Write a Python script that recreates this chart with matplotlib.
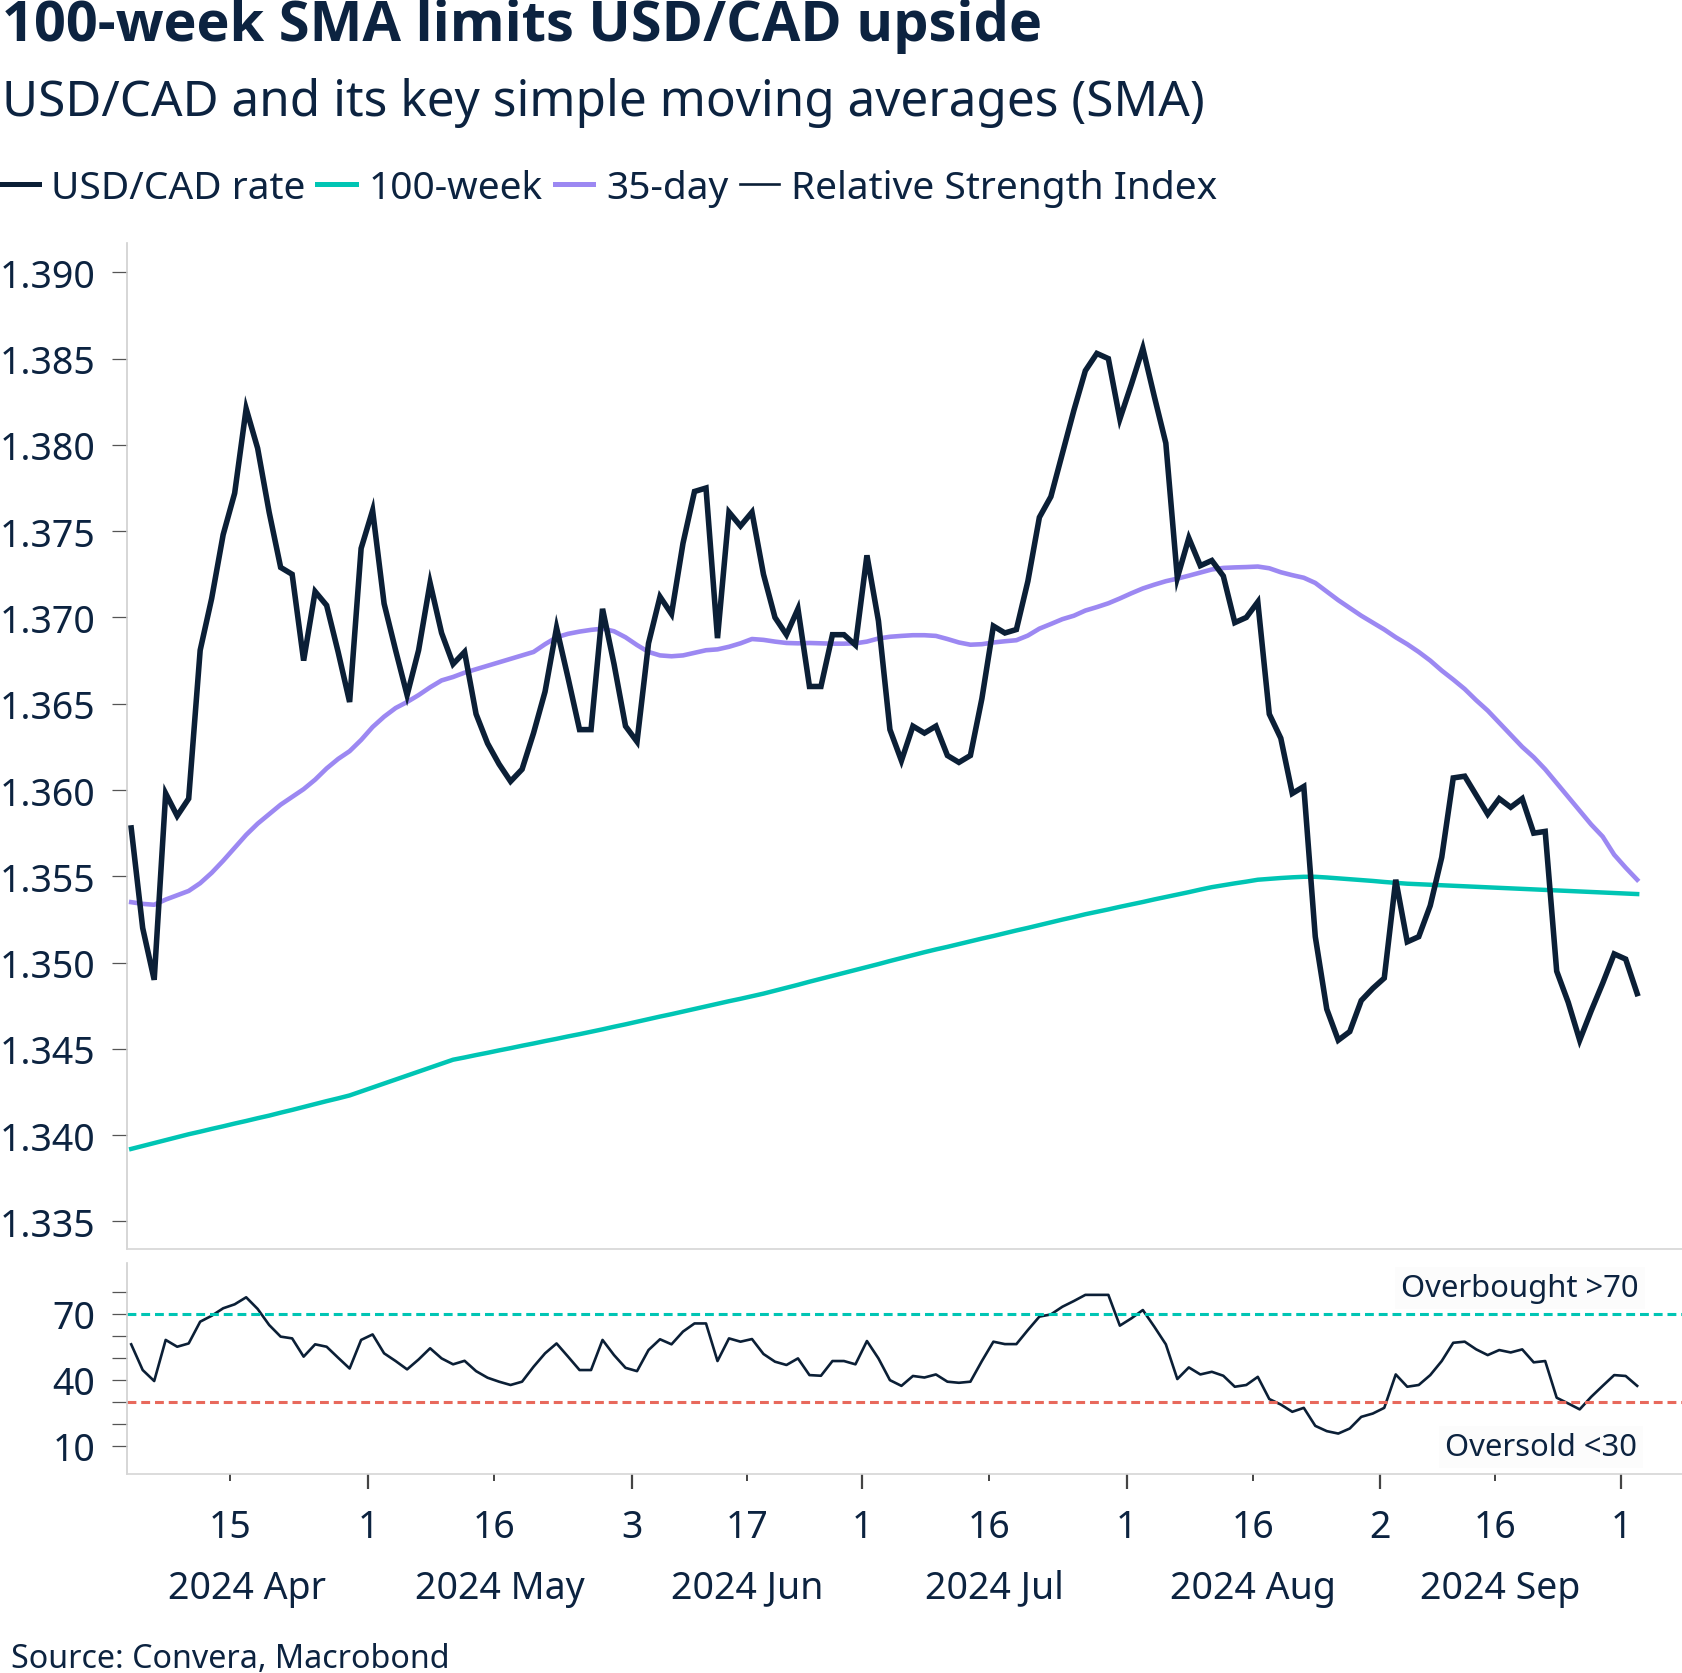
import matplotlib
matplotlib.use('Agg')
import matplotlib.pyplot as plt
import matplotlib.transforms as mtransforms
from matplotlib.lines import Line2D
import numpy as np
import pandas as pd

plt.rcParams['font.family'] = ['Noto Sans', 'DejaVu Sans']

# business days shown on the chart
dates = pd.bdate_range('2024-04-02', periods=132)

usdcad = [1.3578, 1.3520, 1.3490, 1.3598, 1.3585, 1.3595, 1.3681, 1.3711, 1.3748, 1.3772,
          1.3821, 1.3798, 1.3761, 1.3729, 1.3725, 1.3675, 1.3715, 1.3707, 1.3680, 1.3651,
          1.3740, 1.3762, 1.3708, 1.3681, 1.3655, 1.3681, 1.3720, 1.3691,
          1.3673, 1.3680, 1.3644, 1.3627, 1.3615, 1.3605, 1.3612, 1.3633, 1.3657, 1.3694,
          1.3665, 1.3635, 1.3635, 1.3705, 1.3673, 1.3637, 1.3628, 1.3685, 1.3712, 1.3702,
          1.3743, 1.3773, 1.3775, 1.3688, 1.3761, 1.3753, 1.3761,
          1.3725, 1.3700, 1.3690, 1.3705, 1.3660, 1.3660, 1.3690, 1.3690, 1.3684, 1.3736,
          1.3698, 1.3635, 1.3617, 1.3637, 1.3633, 1.3637, 1.3620, 1.3616, 1.3620, 1.3653,
          1.3695, 1.3691, 1.3693, 1.3721, 1.3758, 1.3770, 1.3795, 1.3820, 1.3843,
          1.3853, 1.3850, 1.3815, 1.3835, 1.3856, 1.3828, 1.3801, 1.3723, 1.3746, 1.3730,
          1.3733, 1.3724, 1.3697, 1.3700, 1.3709, 1.3644, 1.3630, 1.3598, 1.3602, 1.3515,
          1.3473, 1.3455, 1.3460, 1.3478, 1.3485, 1.3491, 1.3548, 1.3512,
          1.3515, 1.3533, 1.3561, 1.3607, 1.3608, 1.3597, 1.3586, 1.3595, 1.3590, 1.3595,
          1.3575, 1.3576, 1.3495, 1.3477, 1.3455, 1.3472, 1.3488, 1.3505, 1.3502, 1.3482]

sma_35d = [1.35350, 1.35340, 1.35335, 1.35365, 1.35390, 1.35415, 1.35460, 1.35520, 1.35590, 1.35665,
           1.35740, 1.35805, 1.35860, 1.35915, 1.35960, 1.36005, 1.36060, 1.36125, 1.36180, 1.36225,
           1.36290, 1.36365, 1.36425, 1.36475, 1.36510, 1.36550, 1.36595, 1.36635,
           1.36655, 1.36680, 1.36700, 1.36720, 1.36740, 1.36760, 1.36780, 1.36800, 1.36845, 1.36885,
           1.36905, 1.36918, 1.36928, 1.36935, 1.36920, 1.36885, 1.36840, 1.36800, 1.36780, 1.36775,
           1.36780, 1.36795, 1.36810, 1.36815, 1.36830, 1.36850, 1.36875,
           1.36870, 1.36860, 1.36852, 1.36850, 1.36852, 1.36850, 1.36848, 1.36848, 1.36850, 1.36860,
           1.36878, 1.36888, 1.36893, 1.36897, 1.36897, 1.36893, 1.36875, 1.36855, 1.36842, 1.36845,
           1.36855, 1.36862, 1.36868, 1.36895, 1.36935, 1.36962, 1.36990, 1.37010, 1.37040,
           1.37060, 1.37082, 1.37110, 1.37140, 1.37168, 1.37190, 1.37210, 1.37225, 1.37242, 1.37260,
           1.37278, 1.37287, 1.37290, 1.37292, 1.37295, 1.37285, 1.37262, 1.37245, 1.37230, 1.37200,
           1.37150, 1.37100, 1.37055, 1.37010, 1.36970, 1.36930, 1.36885, 1.36845,
           1.36800, 1.36750, 1.36692, 1.36640, 1.36585, 1.36520, 1.36460, 1.36390, 1.36320, 1.36250,
           1.36190, 1.36120, 1.36040, 1.35960, 1.35880, 1.35800, 1.35730, 1.35625, 1.35550, 1.35480]

sma_100w = [1.33920, 1.33937, 1.33954, 1.33971, 1.33988, 1.34005, 1.34020, 1.34036, 1.34051, 1.34067,
            1.34082, 1.34098, 1.34113, 1.34130, 1.34146, 1.34163, 1.34180, 1.34197, 1.34213, 1.34230,
            1.34253, 1.34276, 1.34299, 1.34322, 1.34345, 1.34368, 1.34391, 1.34414, 1.34437, 1.34450,
            1.34464, 1.34477, 1.34491, 1.34504, 1.34518, 1.34531, 1.34545, 1.34558, 1.34572, 1.34585,
            1.34599, 1.34613, 1.34628, 1.34642, 1.34657, 1.34672, 1.34687, 1.34701, 1.34716, 1.34731,
            1.34746, 1.34761, 1.34776, 1.34790, 1.34805, 1.34820, 1.34837, 1.34854, 1.34871, 1.34889,
            1.34906, 1.34923, 1.34940, 1.34957, 1.34974, 1.34991, 1.35009, 1.35026, 1.35043, 1.35060,
            1.35076, 1.35091, 1.35107, 1.35123, 1.35139, 1.35154, 1.35170, 1.35186, 1.35201, 1.35217,
            1.35233, 1.35249, 1.35264, 1.35280, 1.35294, 1.35308, 1.35323, 1.35337, 1.35351, 1.35366,
            1.35380, 1.35394, 1.35408, 1.35423, 1.35437, 1.35448, 1.35459, 1.35469, 1.35480, 1.35485,
            1.35490, 1.35494, 1.35497, 1.35497, 1.35493, 1.35488, 1.35483, 1.35478, 1.35473, 1.35467,
            1.35462, 1.35457, 1.35454, 1.35451, 1.35448, 1.35445, 1.35442, 1.35439, 1.35436, 1.35433,
            1.35430, 1.35427, 1.35424, 1.35421, 1.35418, 1.35415, 1.35412, 1.35409, 1.35406, 1.35403,
            1.35400, 1.35397]

rsi = [56.2, 44.5, 39.5, 58.2, 55.1, 56.6, 66.5, 69.2, 72.6, 74.4,
       77.6, 72.3, 65.0, 59.7, 58.9, 50.6, 56.2, 55.1, 50.1, 45.2,
       58.2, 60.7, 52.1, 48.6, 44.8, 49.3, 54.4, 49.8, 47.1, 48.7,
       44.0, 41.0, 39.2, 37.7, 39.2, 46.0, 52.1, 56.6, 50.6, 44.5,
       44.5, 58.2, 51.3, 45.5, 44.0, 53.6, 58.5, 56.2, 62.0, 65.7,
       65.7, 48.6, 58.9, 57.4, 58.6, 51.8, 48.3, 46.8, 49.8, 42.2,
       41.9, 48.6, 48.6, 47.1, 57.7, 49.8, 39.9, 37.3, 41.8, 41.1,
       42.5, 39.2, 38.7, 39.2, 48.6, 57.4, 56.3, 56.3, 62.7, 68.8,
       69.8, 73.3, 75.9, 78.7, 78.7, 78.7, 64.7, 68.0, 71.8, 64.2,
       56.2, 40.4, 45.7, 42.5, 43.7, 41.9, 36.9, 37.7, 41.4, 31.3,
       28.8, 25.5, 27.3, 19.1, 16.7, 15.6, 17.9, 23.2, 24.7, 27.3,
       42.5, 36.9, 37.7, 42.2, 48.6, 56.9, 57.4, 53.9, 51.3, 53.6,
       52.5, 53.9, 48.0, 48.6, 31.9, 29.3, 26.6, 32.3, 37.3, 42.2,
       41.8, 37.3]

tick_dates = ['2024-04-15', '2024-05-01', '2024-05-16', '2024-06-03', '2024-06-17',
              '2024-07-01', '2024-07-16', '2024-08-01', '2024-08-16', '2024-09-02',
              '2024-09-16', '2024-10-01']
month_start = ['2024-05-01', '2024-06-03', '2024-07-01', '2024-08-01', '2024-09-02', '2024-10-01']
month_names = ['2024 Apr', '2024 May', '2024 Jun', '2024 Jul', '2024 Aug', '2024 Sep']

navy = '#0b1f36'
txt = '#0c2340'
teal = '#00c5b4'
purple = '#9c88f2'
red = '#e8695c'

W, H = 1682, 1674
fig = plt.figure(figsize=(W / 100, H / 100), dpi=100)

x = np.arange(len(dates))
xlim = (-0.4, 134.9)
shift = 0.4  # tick marks sit slightly left of the data point of that day


def tick_pos(d):
    return dates.get_loc(pd.Timestamp(d)) - shift


left = 126.6 / W
ax = fig.add_axes([left, 1 - 1250 / H, 1 - left, (1250 - 244) / H])
ax2 = fig.add_axes([left, 1 - 1475 / H, 1 - left, (1475 - 1264) / H])

ax.plot(x, sma_100w, color=teal, lw=3.2)
ax.plot(x, sma_35d, color=purple, lw=3.3)
ax.plot(x, usdcad, color=navy, lw=4.0, solid_joinstyle='miter')
ax.set_xlim(*xlim)
ax.set_ylim(1.3334, 1.3917)
yt = np.arange(1.335, 1.3901, 0.005)
ax.set_yticks(yt)
ax.set_yticklabels(['%.3f' % v for v in yt])
ax.set_xticks([])

ax2.plot(x, rsi, color=navy, lw=1.9)
ax2.axhline(70, color=teal, lw=2.2, dashes=(2.9, 1.6))
ax2.axhline(30, color=red, lw=2.2, dashes=(2.9, 1.6))
ax2.set_xlim(*xlim)
ax2.set_ylim(-2.8, 93.2)
ax2.set_yticks([10, 40, 70])
ax2.set_yticks([20, 30, 50, 60, 80], minor=True)

for a in (ax, ax2):
    a.spines['top'].set_visible(False)
    a.spines['right'].set_visible(False)
    a.spines['left'].set_color('#cfcfcf')
    a.spines['bottom'].set_color('#d6d6d6')
    a.spines['left'].set_linewidth(1.2)
    a.spines['bottom'].set_linewidth(1.2)
    a.tick_params(axis='y', which='both', length=10.5, width=0.9, color='#555555',
                  pad=12, labelsize=27, labelcolor=txt)

# date axis
ax2.set_xticks([tick_pos(d) for d in month_start])
ax2.set_xticks([tick_pos(d) for d in tick_dates if d not in month_start], minor=True)
ax2.tick_params(axis='x', which='major', length=10.5, width=1.6, color='#444444', labelbottom=False)
ax2.tick_params(axis='x', which='minor', length=5, width=1.4, color='#444444', labelbottom=False)

trans = mtransforms.blended_transform_factory(ax2.transData, ax2.transAxes)
for d in tick_dates:
    ax2.text(tick_pos(d), -0.252, str(pd.Timestamp(d).day), transform=trans,
             ha='center', va='center', fontsize=27, color=txt)
edges = [xlim[0]] + [tick_pos(d) for d in month_start]
for i, name in enumerate(month_names):
    ax2.text((edges[i] + edges[i + 1]) / 2, -0.538, name, transform=trans,
             ha='center', va='center', fontsize=27, color=txt)

side = mtransforms.blended_transform_factory(ax2.transAxes, ax2.transData)
ax2.text(0.972, 81.8, 'Overbought >70', transform=side,
         ha='right', va='center', fontsize=22.3, color=txt,
         bbox=dict(boxstyle='square,pad=0.2', fc='#fcfcfc', ec='none'))
ax2.text(0.971, 9.5, 'Oversold <30', transform=side,
         ha='right', va='center', fontsize=22.3, color=txt,
         bbox=dict(boxstyle='square,pad=0.2', fc='#fcfcfc', ec='none'))

# titles
fig.text(0.001, 1 - 41 / H, '100-week SMA limits USD/CAD upside', fontsize=40.3,
         fontweight='bold', family='Open Sans', color=txt, va='baseline', ha='left')
fig.text(0.001, 1 - 116 / H, 'USD/CAD and its key simple moving averages (SMA)', fontsize=35.6,
         color=txt, va='baseline', ha='left')

handles = [Line2D([], [], color=navy, lw=3.6),
           Line2D([], [], color=teal, lw=3.6),
           Line2D([], [], color=purple, lw=3.6),
           Line2D([], [], color=navy, lw=1.9)]
labels = ['USD/CAD rate', '100-week', '35-day', 'Relative Strength Index']
leg = fig.legend(handles, labels, loc='center left', bbox_to_anchor=(0.0, 1 - 189 / H),
                 ncol=4, frameon=False, fontsize=28, handlelength=1.0, handletextpad=0.32,
                 columnspacing=0.3, borderpad=0, borderaxespad=0)
for t in leg.get_texts():
    t.set_color(txt)

fig.text(10.7 / W, 1 - 1668 / H, 'Source: Convera, Macrobond', fontsize=23.2, color=txt,
         va='baseline', ha='left')

fig.savefig('out.png', dpi=100)
